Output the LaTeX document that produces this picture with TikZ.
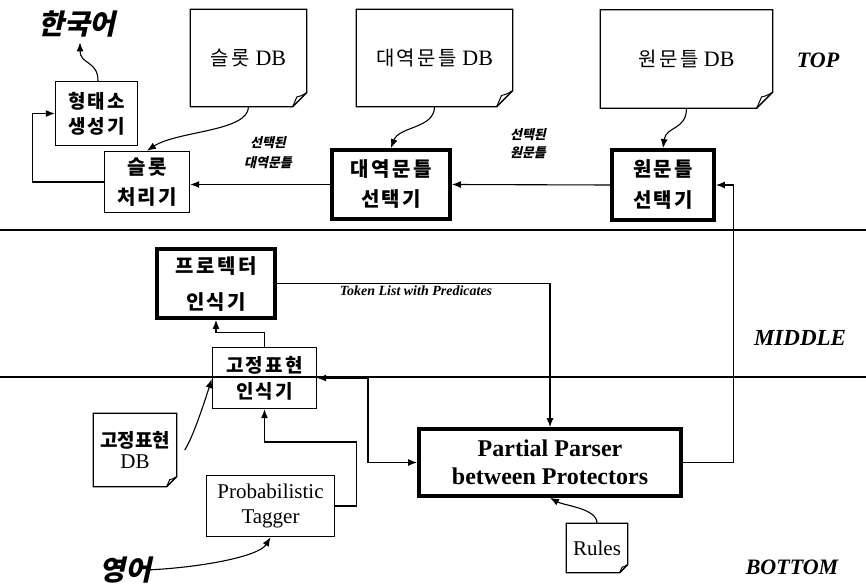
\documentclass[tikz,border=0pt]{standalone}
\usepackage{fontspec}
\setmainfont{Liberation Serif}
\newfontfamily\kr[LetterSpace=12]{Noto Sans CJK KR}
\newfontfamily\krn{Noto Sans CJK KR}
\newfontfamily\krsl[FakeSlant=0.22]{Noto Sans CJK KR}
\usetikzlibrary{arrows.meta}
\newcommand\docoutline[2]{%
  \draw[line width=1.3pt] (#1.north west) -- (#1.north east) -- ([yshift=#2]#1.south east) -- ([xshift=-#2]#1.south east) -- (#1.south west) -- cycle;
  \draw[line width=1pt] ([yshift=#2]#1.south east) .. controls ([xshift=-0.45*#2,yshift=0.75*#2]#1.south east) .. ([xshift=-0.7*#2,yshift=0.7*#2]#1.south east) -- ([xshift=-#2]#1.south east);
}
\begin{document}
\begin{tikzpicture}[x=1pt,y=-1pt,
  ln/.style={line width=1.1pt},
  arr/.style={line width=1.1pt,-{Latex[length=9pt,width=7pt]}},
  arrboth/.style={line width=1.1pt,{Latex[length=9pt,width=7pt]}-{Latex[length=9pt,width=7pt]}},
  plainbox/.style={draw,line width=1.4pt,inner sep=0pt,align=center},
  thickbox/.style={draw,line width=3.8pt,inner sep=0pt,align=center},
  docnode/.style={inner sep=0pt,align=center},
  lbl/.style={inner sep=0pt,align=center}]
\useasboundingbox (0,0) rectangle (866,585);

% layer dividers
\coordinate (d1l) at (0,230); \coordinate (d1r) at (866,230);
\coordinate (d2l) at (0,377); \coordinate (d2r) at (866,377);
\draw[ln] (d1l) -- (d1r);
\draw[ln] (d2l) -- (d2r);

% TOP layer
\node[lbl,font=\krsl\bfseries\fontsize{28}{30}\selectfont] (kor) at (77,24) {한국어};
\node[plainbox,minimum width=82,minimum height=64,font=\kr\bfseries\fontsize{19}{25}\selectfont] (hyung) at (96.5,113.5) {형태소\\생성기};
\node[plainbox,minimum width=85,minimum height=61,font=\kr\bfseries\fontsize{20}{30}\selectfont] (slot) at (147,182) {슬롯\\처리기};
\node[docnode,minimum width=116,minimum height=97,font=\fontsize{22}{24}\selectfont] (slotdb) at (248.5,58) {{\kr\fontsize{20}{22}\selectfont 슬롯} DB};
\node[docnode,minimum width=156,minimum height=97,font=\fontsize{22}{24}\selectfont] (daedb) at (434.5,58) {{\kr\fontsize{20}{22}\selectfont 대역문틀} DB};
\node[docnode,minimum width=172,minimum height=98,font=\fontsize{22}{24}\selectfont] (wondb) at (686.5,59) {{\kr\fontsize{20}{22}\selectfont 원문틀} DB};
\docoutline{slotdb}{14pt}
\docoutline{daedb}{16pt}
\docoutline{wondb}{16pt}
\node[thickbox,minimum width=118,minimum height=69,font=\kr\bfseries\fontsize{20}{30}\selectfont] (daesel) at (391,184.5) {대역문틀\\선택기};
\node[thickbox,minimum width=102,minimum height=70,font=\kr\bfseries\fontsize{20}{31}\selectfont] (wonsel) at (663,185) {원문틀\\선택기};
\node[lbl,font=\krsl\bfseries\fontsize{13}{20}\selectfont] (sel1) at (268,153) {선택된\\대역문틀};
\node[lbl,font=\krsl\bfseries\fontsize{13}{18}\selectfont] (sel2) at (528,144) {선택된\\원문틀};
\node[lbl,font=\bfseries\itshape\fontsize{22}{24}\selectfont] (top) at (818,60) {TOP};

% MIDDLE layer
\node[thickbox,minimum width=118,minimum height=69,font=\kr\bfseries\fontsize{20}{36}\selectfont] (prot) at (216,283.5) {프로텍터\\인식기};
\node[lbl,font=\bfseries\itshape\fontsize{14}{16}\selectfont] (tok) at (416,291) {Token List with Predicates};
\node[lbl,font=\bfseries\itshape\fontsize{23}{25}\selectfont] (mid) at (800,338) {MIDDLE};
\node[plainbox,minimum width=104,minimum height=61,font=\kr\bfseries\fontsize{19}{26}\selectfont] (gojung) at (264.5,378) {고정표현\\인식기};

% BOTTOM layer
\node[docnode,minimum width=83,minimum height=73,font=\fontsize{21}{21}\selectfont] (gojungdb) at (135,450) {{\krn\bfseries\fontsize{19}{21}\selectfont 고정표현}\\DB};
\docoutline{gojungdb}{10pt}
\node[plainbox,minimum width=128,minimum height=61,font=\fontsize{21}{25}\selectfont] (tagger) at (270.5,506) {Probabilistic\\Tagger};
\node[thickbox,minimum width=262,minimum height=67,font=\bfseries\fontsize{24}{28}\selectfont] (parser) at (550,462.5) {Partial Parser\\between Protectors};
\node[docnode,minimum width=61,minimum height=49,font=\fontsize{21}{24}\selectfont] (rules) at (597,548) {Rules};
\docoutline{rules}{8pt}
\node[lbl,font=\krsl\bfseries\fontsize{28}{30}\selectfont] (eng) at (125,570) {영어};
\node[lbl,font=\bfseries\itshape\fontsize{22}{24}\selectfont] (bot) at (792,567) {BOTTOM};

% connectors
\draw[arr] ([xshift=1.5pt]hyung.north) .. controls +(0,-20) and +(0,22) .. ([xshift=3pt,yshift=-5pt]kor.south);
\draw[arr] (slot.west) -- ++(-71,0) |- (hyung.west);
\draw[arr] (slotdb.south) .. controls +(0,25) and +(30,-20) .. (slot.north);
\draw[arr] (daedb.south) .. controls +(0,22) and +(8,-22) .. (daesel.north);
\draw[arr] (wondb.south) .. controls +(0,22) and +(3,-22) .. (wonsel.north);
\draw[arr] (wonsel.west) -- (daesel.east);
\draw[arr] (daesel.west) -- (daesel.west -| slot.east);
\draw[arr] (parser.east) -- ++(51,0) |- (wonsel.east);
\draw[arr] (prot.east) -| (parser.north);
\draw[arr] (gojung.north) -- ++(0,-14) -| (prot.south);
\coordinate (j) at (368,378);
\draw[arrboth] (gojung.east) -- (j) |- (parser.west);
\draw[arr] (tagger.east) -- ++(21,0) -- ++(0,-64) -| (gojung.south);
\draw[arr] ([xshift=8pt]gojungdb.east) .. controls +(8,-12) and +(-8,25) .. ([yshift=-1pt]gojung.west);
\draw[arr] ([xshift=-5pt]eng.east) .. controls +(50,-2) and +(-12,20) .. (tagger.south);
\draw[arr] (rules.north) .. controls +(0,-15) and +(15,8) .. (parser.south);
\end{tikzpicture}
\end{document}
